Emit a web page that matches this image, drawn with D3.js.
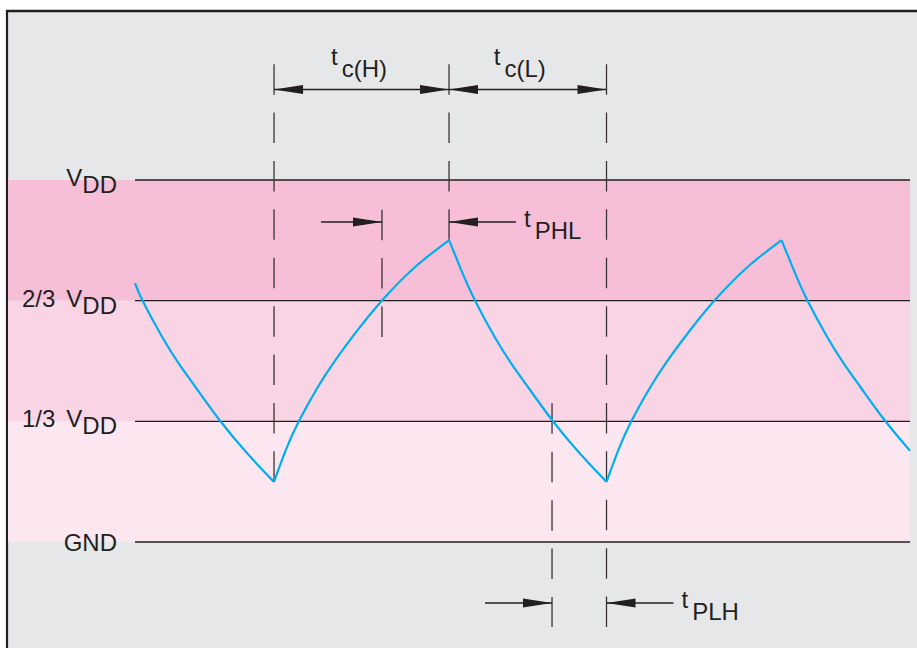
<!DOCTYPE html>
<html>
<head>
<meta charset="utf-8">
<script src="https://cdn.jsdelivr.net/npm/d3@7"></script>
<style>
  body { margin: 0; background: #fff; }
  text { font-family: "Liberation Sans", Arial, sans-serif; fill: #231f20; }
</style>
</head>
<body>
<div id="vis"></div>
<script>
// waveform: time (0-100) and voltage as fraction of VDD
const waveT = [0, 0.97, 3.55, 5.74, 7.94, 10.90, 14.39, 17.94,
               19.48, 21.16, 23.48, 25.68, 28.65, 31.87, 36.0, 40.52,
               42.19, 43.87, 46.45, 48.65, 50.84, 53.81, 57.29, 60.84,
               62.39, 64.06, 66.39, 68.58, 71.55, 74.77, 78.90, 83.42,
               85.10, 86.77, 89.35, 91.55, 93.74, 96.71, 100];
const waveV = [0.715, 0.667, 0.565, 0.490, 0.424, 0.337, 0.247, 0.166,
               0.255, 0.334, 0.424, 0.497, 0.583, 0.667, 0.757, 0.834,
               0.746, 0.667, 0.565, 0.490, 0.424, 0.337, 0.247, 0.166,
               0.255, 0.334, 0.424, 0.497, 0.583, 0.667, 0.757, 0.834,
               0.746, 0.667, 0.565, 0.490, 0.424, 0.337, 0.252];

// reference levels
const levelV = [1, 2 / 3, 1 / 3, 0];
const levelMain = [['V'], ['2/3', 'V'], ['1/3', 'V'], ['GND']];
const levelSub = ['DD', 'DD', 'DD', ''];

// dashed guides: time, top and bottom (in VDD units)
const guideT = [17.94, 40.52, 60.84, 31.87, 53.81];
const guideTop = [1.32, 1.32, 1.32, 0.918, 0.383];
const guideBottom = [0.166, 0.834, -0.235, 0.566, -0.235];

// cycle time dimension arrows
const cycleFrom = [17.94, 40.52];
const cycleTo = [40.52, 60.84];
const cycleSub = ['c(H)', 'c(L)'];
const cycleLabelT = [25.3, 46.3];
const cycleV = 1.25;

// propagation delay arrows (two arrows pointing inwards)
const delayFrom = [31.87, 53.81];
const delayTo = [40.52, 60.84];
const delayV = [0.884, -0.1685];
const delaySub = ['PHL', 'PLH'];

const width = 917, height = 648;
const svg = d3.select('#vis').append('svg')
    .attr('width', width)
    .attr('height', height);

const xScale = d3.scaleLinear().domain([0, 100]).range([135, 910]);
const yScale = d3.scaleLinear().domain([0, 1]).range([542, 180]);
const ink = '#231f20';

// grey panel + frame
svg.append('rect').attr('x', 7).attr('y', 11).attr('width', width - 7).attr('height', height - 11)
    .attr('fill', '#e6e7e9');
svg.append('line').attr('x1', 6).attr('x2', width).attr('y1', 11).attr('y2', 11)
    .attr('stroke', ink).attr('stroke-width', 2.4);
svg.append('line').attr('x1', 7).attr('x2', 7).attr('y1', 10).attr('y2', height)
    .attr('stroke', ink).attr('stroke-width', 2.2);

// pink bands between levels
const bandColors = ['#f7bfd7', '#f9d4e5', '#fce7f0'];
svg.selectAll('.band')
    .data(d3.range(3))
    .join('rect')
    .attr('class', 'band')
    .attr('x', 8)
    .attr('width', xScale(100) - 8)
    .attr('y', i => yScale(levelV[i]))
    .attr('height', i => yScale(levelV[i + 1]) - yScale(levelV[i]))
    .attr('fill', i => bandColors[i]);

// level lines
svg.selectAll('.level')
    .data(levelV)
    .join('line')
    .attr('class', 'level')
    .attr('x1', xScale(0)).attr('x2', xScale(100))
    .attr('y1', d => yScale(d)).attr('y2', d => yScale(d))
    .attr('stroke', ink).attr('stroke-width', 1.3);

// level labels
levelV.forEach((v, i) => {
    const t = svg.append('text')
        .attr('x', 117)
        .attr('y', yScale(v) + (levelSub[i] ? 6 : 9))
        .attr('text-anchor', 'end')
        .attr('font-size', 24);
    levelMain[i].forEach((s, j) => {
        t.append('tspan').attr('dx', j ? 11 : 0).text(s);
    });
    if (levelSub[i]) t.append('tspan').attr('dy', 7).text(levelSub[i]);
});

// dashed guides
svg.selectAll('.guide')
    .data(guideT)
    .join('line')
    .attr('class', 'guide')
    .attr('x1', d => xScale(d)).attr('x2', d => xScale(d))
    .attr('y1', (d, i) => yScale(guideTop[i]))
    .attr('y2', (d, i) => yScale(guideBottom[i]))
    .attr('stroke', '#3a3334').attr('stroke-width', 1.3)
    .attr('stroke-dasharray', '30.5 17.9');

// waveform: split at the peaks and valleys so the corners stay sharp
const pts = waveT.map((t, i) => ({t: t, v: waveV[i]}));
const segments = [];
let cur = [pts[0]];
for (let i = 1; i < pts.length; i++) {
    cur.push(pts[i]);
    if (i < pts.length - 1 && (pts[i].v - pts[i - 1].v) * (pts[i + 1].v - pts[i].v) < 0) {
        segments.push(cur);
        cur = [pts[i]];
    }
}
segments.push(cur);

const line = d3.line()
    .x(d => xScale(d.t))
    .y(d => yScale(d.v))
    .curve(d3.curveNatural);

svg.selectAll('.wave')
    .data(segments)
    .join('path')
    .attr('class', 'wave')
    .attr('d', line)
    .attr('fill', 'none')
    .attr('stroke', '#00aeef')
    .attr('stroke-width', 2.2)
    .attr('stroke-linejoin', 'miter');

// arrow helpers
function head(xt, yy, dir) {
    svg.append('path')
        .attr('d', `M${xt},${yy}L${xt - dir * 29},${yy - 4.6}L${xt - dir * 29},${yy + 4.6}Z`)
        .attr('fill', ink);
}
function shaft(x1, x2, yy) {
    svg.append('line').attr('x1', x1).attr('x2', x2).attr('y1', yy).attr('y2', yy)
        .attr('stroke', ink).attr('stroke-width', 1.4);
}
function label(x, yy, sub, size, drop) {
    const t = svg.append('text').attr('x', x).attr('y', yy).attr('font-size', size);
    t.append('tspan').text('t');
    t.append('tspan').attr('dx', 4).attr('dy', drop).text(sub);
}

// cycle times
cycleFrom.forEach((f, i) => {
    const x1 = xScale(f), x2 = xScale(cycleTo[i]), yy = yScale(cycleV);
    shaft(x1, x2, yy);
    head(x1, yy, -1);
    head(x2, yy, 1);
    label(xScale(cycleLabelT[i]), yy - 25, cycleSub[i], 24, 12);
});

// propagation delays
const tailLeft = [61, 67];
const tailRight = [67, 67];
delayFrom.forEach((f, i) => {
    const x1 = xScale(f), x2 = xScale(delayTo[i]), yy = yScale(delayV[i]);
    shaft(x1 - tailLeft[i], x1, yy);
    head(x1, yy, 1);
    shaft(x2, x2 + tailRight[i], yy);
    head(x2, yy, -1);
    label(x2 + tailRight[i] + 8, yy + 5, delaySub[i], 24, 12.5);
});
</script>
</body>
</html>
